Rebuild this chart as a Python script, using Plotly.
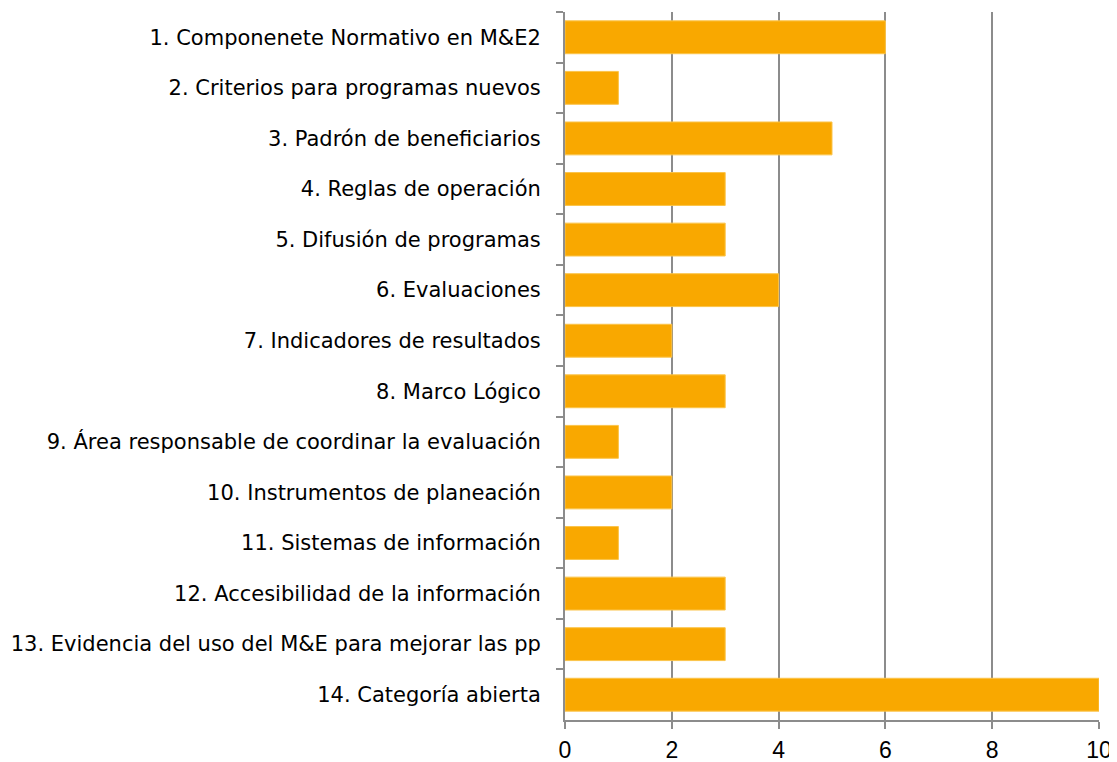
import plotly.graph_objects as go

categories = [
    "1. Componenete Normativo en M&E2",
    "2. Criterios para programas nuevos",
    "3. Padrón de beneficiarios",
    "4. Reglas de operación",
    "5. Difusión de programas",
    "6. Evaluaciones",
    "7. Indicadores de resultados",
    "8. Marco Lógico",
    "9. Área responsable de coordinar la evaluación",
    "10. Instrumentos de planeación",
    "11. Sistemas de información",
    "12. Accesibilidad de la información",
    "13. Evidencia del uso del M&E para mejorar las pp",
    "14. Categoría abierta",
]
values = [6, 1, 5, 3, 3, 4, 2, 3, 1, 2, 1, 3, 3, 10]
x_ticks = [0, 2, 4, 6, 8, 10]

fig = go.Figure(
    go.Bar(
        y=categories,
        x=values,
        orientation="h",
        marker=dict(color="#F9A800", line=dict(color="#FBC44A", width=1)),
        width=0.65,
    )
)

fig.update_layout(
    width=1117,
    height=762,
    margin=dict(l=557, r=26, t=4, b=50),
    paper_bgcolor="white",
    plot_bgcolor="white",
    font=dict(family="DejaVu Sans", color="black"),
    showlegend=False,
)
fig.update_xaxes(
    range=[0, 10],
    tickvals=x_ticks,
    showgrid=True,
    gridcolor="#8C8C8C",
    gridwidth=2,
    showline=True,
    linecolor="#8C8C8C",
    linewidth=2,
    ticks="outside",
    ticklen=7,
    tickcolor="#8C8C8C",
    tickwidth=2,
    tickfont=dict(size=23, family="Liberation Sans"),
    ticklabelstandoff=1,
    zeroline=False,
)
fig.update_yaxes(
    autorange="reversed",
    showline=True,
    linecolor="#8C8C8C",
    linewidth=2,
    ticks="outside",
    ticklen=7,
    tickcolor="#8C8C8C",
    tickwidth=2,
    tickson="boundaries",
    tickfont=dict(size=21),
    ticklabelstandoff=18,
    showgrid=False,
)

fig.write_html("out.html")
